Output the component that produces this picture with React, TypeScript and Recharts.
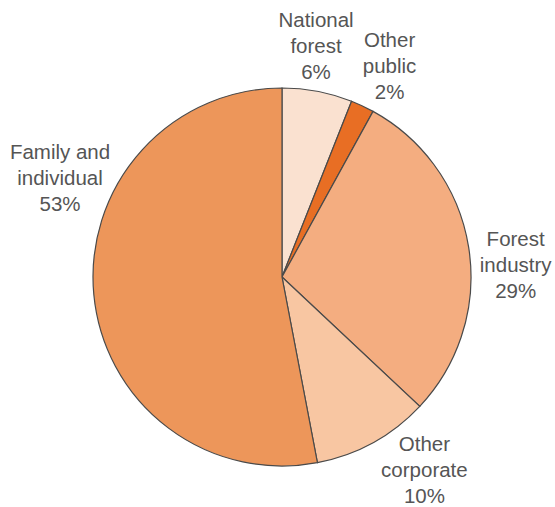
import React from 'react';
import { PieChart, Pie, Cell } from 'recharts';

// ownership categories, clockwise from 12 o'clock
const CATEGORIES = [
  ['National', 'forest'],
  ['Other', 'public'],
  ['Forest', 'industry'],
  ['Other', 'corporate'],
  ['Family and', 'individual'],
];
const SHARES = [6, 2, 29, 10, 53];

const COLORS = ['#FAE1D0', '#E86E24', '#F4AD80', '#F8C6A2', '#ED965A'];

// label placement tweaks: [angle shift in degrees, radius]
const LABEL_POS: [number, number][] = [
  [2.4, 233],
  [-1.8, 237],
  [-6, 234],
  [7.6, 240],
  [-29.4, 243],
];

const RAD = Math.PI / 180;
const LINE_H = 26;

const pieData = SHARES.map((v, i) => ({
  name: CATEGORIES[i].join(' '),
  lines: CATEGORIES[i],
  value: v,
}));

const renderLabel = (props: any) => {
  const { cx, cy, midAngle, index } = props;
  const [shift, r] = LABEL_POS[index];
  const a = (midAngle + shift) * RAD;
  const x = cx + r * Math.cos(-a);
  const y = cy + r * Math.sin(-a);
  const lines = [...pieData[index].lines, `${pieData[index].value}%`];
  const firstBase = y - LINE_H * ((lines.length - 1) / 2) + 7;
  return (
    <text
      key={`lbl-${index}`}
      x={x}
      y={firstBase}
      textAnchor="middle"
      fill="#555555"
      fontSize={20.5}
      fontFamily="'Liberation Sans', Arial, sans-serif"
    >
      {lines.map((l, i) => (
        <tspan key={i} x={x} y={firstBase + i * LINE_H}>
          {l}
        </tspan>
      ))}
    </text>
  );
};

export default function App() {
  return (
    <div style={{ position: 'absolute', left: 0, top: 0, width: 555, height: 507, background: '#fff' }}>
      <PieChart width={555} height={507} margin={{ top: 0, right: 0, bottom: 0, left: 0 }}>
        <Pie
          data={pieData}
          dataKey="value"
          cx={282}
          cy={277}
          outerRadius={189}
          startAngle={90}
          endAngle={-270}
          stroke="#4a4a4a"
          strokeWidth={1.2}
          label={renderLabel}
          labelLine={false}
          isAnimationActive={false}
        >
          {pieData.map((entry, index) => (
            <Cell key={`cell-${index}`} fill={COLORS[index]} />
          ))}
        </Pie>
      </PieChart>
    </div>
  );
}
